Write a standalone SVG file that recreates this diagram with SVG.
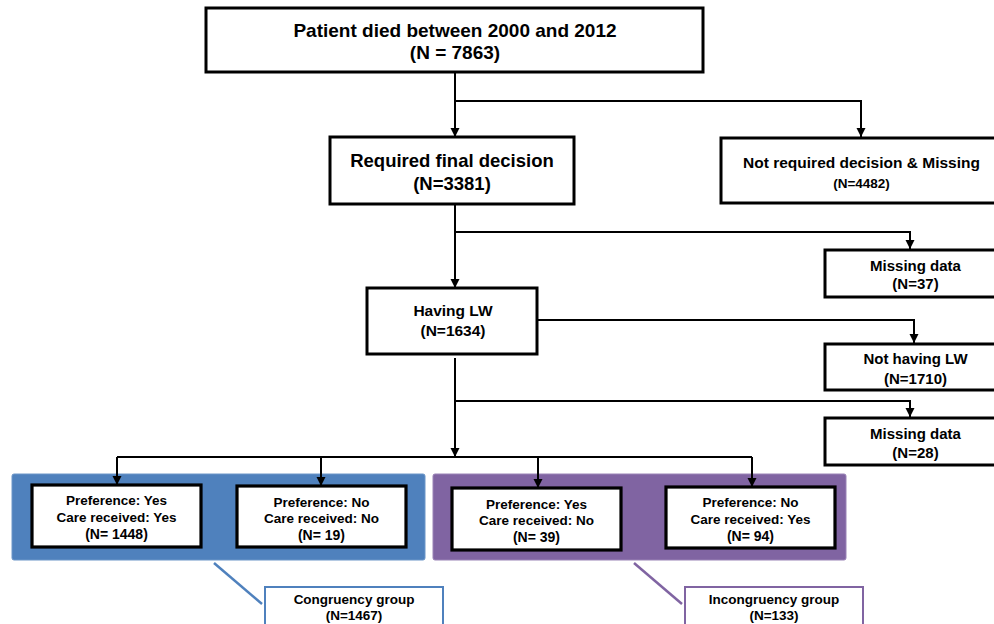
<svg xmlns="http://www.w3.org/2000/svg" width="994" height="624" viewBox="0 0 994 624">
<defs>
<marker id="ah" markerUnits="userSpaceOnUse" markerWidth="10" markerHeight="10" refX="9" refY="5" orient="auto">
<path d="M0,0.5 L9,5 L0,9.5 z" fill="#000"/>
</marker>
<style>
.box{fill:#fff;stroke:#000;stroke-width:3}
.ibox{fill:#fff;stroke:#000;stroke-width:3.2}
.c{fill:none;stroke:#000;stroke-width:2}
.a{marker-end:url(#ah)}
text{font-family:"Liberation Sans",Arial,sans-serif;font-weight:bold;fill:#000;text-anchor:middle}
.t19{font-size:19px}
.t18{font-size:18.5px}
.t155{font-size:15.5px}
.t15{font-size:15px}
.t14{font-size:14px}
.t135{font-size:13.5px}
</style>
</defs>
<rect width="994" height="624" fill="#fff"/>

<g id="panel-congruent">
<rect x="12" y="474" width="413" height="86" rx="2" fill="#4f81bd" stroke="#6d96c8" stroke-width="1"/>
</g>
<g id="panel-incongruent">
<rect x="433" y="474" width="413" height="86" rx="2" fill="#8064a2" stroke="#9a83b6" stroke-width="1"/>
</g>

<g id="connectors">
<path class="c a" d="M455,72 V137"/>
<path class="c a" d="M455,101 H861 V137"/>
<path class="c a" d="M455,204 V288"/>
<path class="c a" d="M455,232 H910 V249"/>
<path class="c a" d="M537,320 H914 V343"/>
<path class="c a" d="M455,358 V457"/>
<path class="c a" d="M455,401 H910 V417"/>
<path class="c" d="M117,457 H752"/>
<path class="c a" d="M117,457 V485"/>
<path class="c a" d="M321,457 V486"/>
<path class="c a" d="M538,457 V488"/>
<path class="c a" d="M752,457 V487"/>
<path d="M214,563 L262,604" fill="none" stroke="#4f81bd" stroke-width="2.5"/>
<path d="M634,563 L682,604" fill="none" stroke="#8064a2" stroke-width="2.5"/>
</g>

<g id="n-top">
<rect class="box" x="206" y="8" width="497" height="64"/>
<text class="t19" x="455" y="37">Patient died between 2000 and 2012</text>
<text class="t19" x="455" y="59">(N = 7863)</text>
</g>

<g id="n-required">
<rect class="box" x="330" y="137" width="244" height="67"/>
<text class="t18" x="452" y="167">Required final decision</text>
<text class="t18" x="452" y="190">(N=3381)</text>
</g>

<g id="n-notrequired">
<rect class="box" x="721" y="138" width="284" height="65"/>
<text class="t155" x="861.5" y="167.5">Not required decision &amp; Missing</text>
<text class="t135" x="861.5" y="187.5">(N=4482)</text>
</g>

<g id="n-missing37">
<rect class="box" x="825" y="250" width="180" height="47"/>
<text class="t15" x="915.5" y="271">Missing data</text>
<text class="t15" x="915.5" y="289">(N=37)</text>
</g>

<g id="n-having">
<rect class="box" x="367" y="288" width="170" height="66"/>
<text class="t155" x="453" y="316">Having LW</text>
<text class="t155" x="453" y="336">(N=1634)</text>
</g>

<g id="n-nothaving">
<rect class="box" x="825" y="344" width="180" height="46"/>
<text class="t15" x="915.5" y="364">Not having LW</text>
<text class="t15" x="915.5" y="384">(N=1710)</text>
</g>

<g id="n-missing28">
<rect class="box" x="825" y="418" width="180" height="47"/>
<text class="t15" x="915.5" y="439">Missing data</text>
<text class="t15" x="915.5" y="458">(N=28)</text>
</g>

<g id="n-yes-yes">
<rect class="ibox" x="32" y="485" width="169" height="62"/>
<text class="t135" x="116.5" y="505">Preference: Yes</text>
<text class="t135" x="116.5" y="522">Care received: Yes</text>
<text class="t14" x="116.5" y="539">(N= 1448)</text>
</g>

<g id="n-no-no">
<rect class="ibox" x="237" y="486" width="169" height="61"/>
<text class="t135" x="321.5" y="507">Preference: No</text>
<text class="t135" x="321.5" y="523">Care received: No</text>
<text class="t14" x="321.5" y="540">(N= 19)</text>
</g>

<g id="n-yes-no">
<rect class="ibox" x="452" y="488" width="169" height="62"/>
<text class="t135" x="536.5" y="509">Preference: Yes</text>
<text class="t135" x="536.5" y="525">Care received: No</text>
<text class="t14" x="536.5" y="542">(N= 39)</text>
</g>

<g id="n-no-yes">
<rect class="ibox" x="666" y="487" width="169" height="61"/>
<text class="t135" x="750.5" y="507">Preference: No</text>
<text class="t135" x="750.5" y="524">Care received: Yes</text>
<text class="t14" x="750.5" y="541">(N= 94)</text>
</g>

<g id="n-congruency">
<rect x="265" y="587" width="178" height="45" fill="#fff" stroke="#4f81bd" stroke-width="2"/>
<text class="t135" x="354" y="604">Congruency group</text>
<text class="t135" x="354" y="620">(N=1467)</text>
</g>

<g id="n-incongruency">
<rect x="685" y="587" width="178" height="45" fill="#fff" stroke="#8064a2" stroke-width="2"/>
<text class="t135" x="774" y="604">Incongruency group</text>
<text class="t135" x="774" y="620">(N=133)</text>
</g>
</svg>
